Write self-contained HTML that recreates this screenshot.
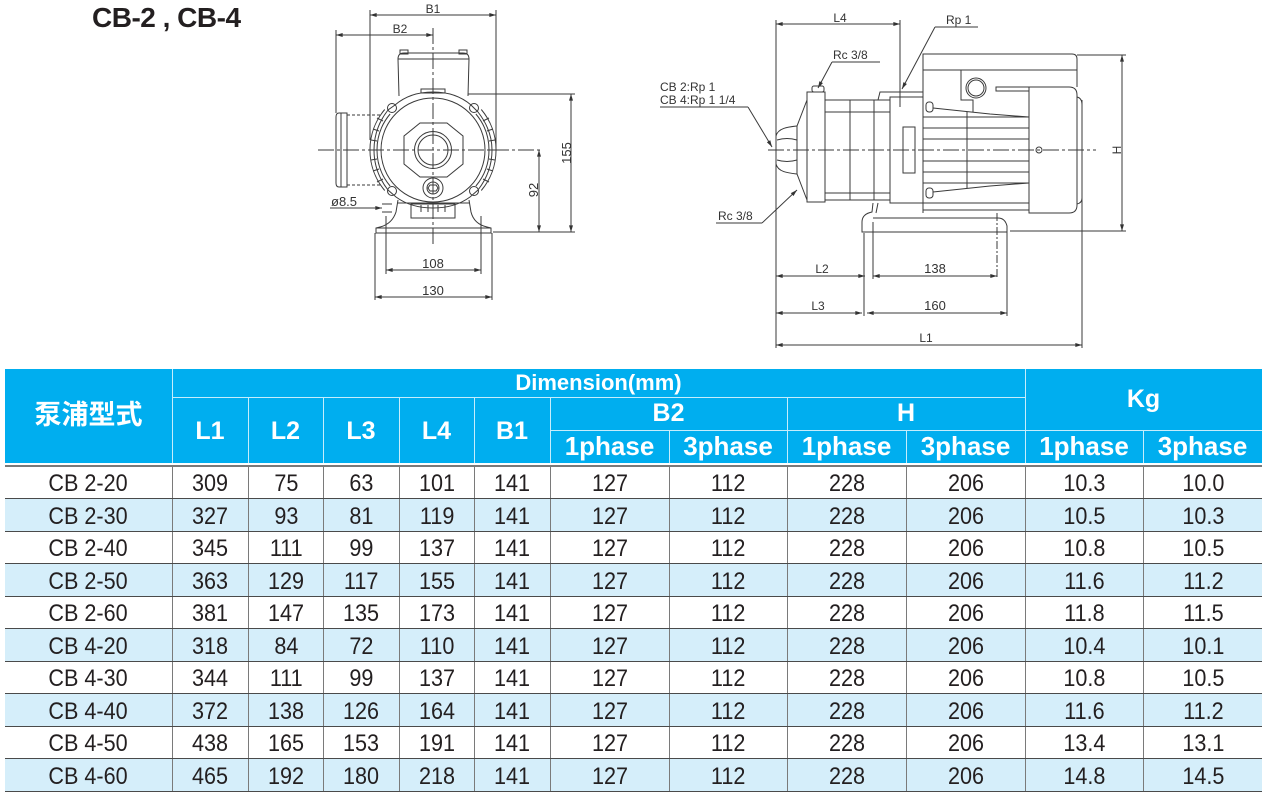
<!DOCTYPE html>
<html><head><meta charset="utf-8">
<style>
*{margin:0;padding:0;box-sizing:border-box}
body{width:1266px;height:799px;background:#fff;position:relative;overflow:hidden;font-family:"Liberation Sans","Noto Sans CJK SC",sans-serif;color:#231f20}
.title{position:absolute;left:92px;top:2px;font-size:28px;font-weight:bold;letter-spacing:-0.5px}
.hd{position:absolute;left:5px;top:369px;width:1257px;height:94px;background:#00aeef}
.ht{position:absolute;color:#fff;font-weight:bold;text-align:center;white-space:nowrap}
.vl{position:absolute;width:1px;background:#c6edfc}
.hl{position:absolute;height:1px;background:#c6edfc}
.row{position:absolute;left:5px;width:1257px;border-bottom:1px solid #4a4a4a;display:flex}
.row div{font-size:24px;text-align:center;border-left:1px solid #7a7a7a;display:flex;align-items:center;justify-content:center;padding-top:3px}
.row div:first-child{border-left:none}
.row span{display:inline-block;transform:scaleX(.9)}
.b{background:#d5eefa}
</style></head><body>
<div class="title">CB-2 , CB-4</div>

<svg width="1266" height="360" style="position:absolute;left:0;top:0" xmlns="http://www.w3.org/2000/svg">
<defs>
<marker id="a" viewBox="0 0 10 6" refX="10" refY="3" markerWidth="9" markerHeight="4" markerUnits="userSpaceOnUse" orient="auto-start-reverse"><path d="M0,0 L10,3 L0,6 z" fill="#333"/></marker>
</defs>
<g stroke="#3a3a3a" stroke-width="1" fill="none">
<line x1="370" y1="15" x2="496" y2="15" marker-start="url(#a)" marker-end="url(#a)"/>
<line x1="370" y1="10" x2="370" y2="140"/>
<line x1="496" y1="10" x2="496" y2="150"/>
<line x1="336" y1="35" x2="433" y2="35" marker-start="url(#a)" marker-end="url(#a)"/>
<line x1="336" y1="30" x2="336" y2="113"/>
<line x1="571" y1="94" x2="571" y2="232" marker-start="url(#a)" marker-end="url(#a)"/>
<line x1="539" y1="150" x2="539" y2="232" marker-start="url(#a)" marker-end="url(#a)"/>
<line x1="468" y1="94" x2="575" y2="94"/>
<line x1="493" y1="232" x2="575" y2="232"/>
<line x1="386" y1="270" x2="481" y2="270" marker-start="url(#a)" marker-end="url(#a)"/>
<line x1="375" y1="297" x2="492" y2="297" marker-start="url(#a)" marker-end="url(#a)"/>
<line x1="386" y1="216" x2="386" y2="274"/>
<line x1="481" y1="216" x2="481" y2="274"/>
<line x1="375" y1="233" x2="375" y2="300"/>
<line x1="492" y1="233" x2="492" y2="300"/>
<line x1="330" y1="208" x2="382" y2="208" marker-end="url(#a)"/>
<line x1="382" y1="204" x2="392" y2="204"/>
<line x1="382" y1="212" x2="392" y2="212"/>
<line x1="433" y1="28" x2="433" y2="245" stroke-dasharray="16 3 3 3"/>
<line x1="318" y1="150" x2="541" y2="150" stroke-dasharray="16 3 3 3"/>
<path d="M399,96 L398,59 Q398,53 404,53 L463,53 Q469,53 469,59 L468,96"/>
<line x1="398" y1="59" x2="469" y2="59"/>
<rect x="400" y="50" width="8" height="4"/><rect x="459" y="50" width="8" height="4"/>
<path d="M395,105 Q410,92 433,92 Q456,92 471,105 L478,112 Q492,130 492,150 Q492,172 478,190 L470,197 Q455,208 433,208 Q411,208 396,197 L388,190 Q374,172 374,150 Q374,128 388,110 Z"/>
<circle cx="433" cy="150" r="52"/>
<rect x="421" y="89" width="24" height="4"/>
<circle cx="392" cy="108" r="4.5"/><circle cx="474" cy="108" r="4.5"/>
<circle cx="392" cy="191" r="4.5"/><circle cx="474" cy="191" r="4.5"/>
<path d="M384.7,109.5 A63,63 0 0 0 384.7,190.5"/>
<path d="M390.1,114 A56,56 0 0 0 390.1,186"/>
<path d="M481.3,109.5 A63,63 0 0 1 481.3,190.5"/>
<path d="M475.9,114 A56,56 0 0 1 475.9,186"/>
<path d="M377,118 L383,121 M373,129 L379,131 M371,140 L377,141 M370,150 L377,150 M371,160 L377,159 M373,171 L379,169 M377,182 L383,179"/>
<path d="M489,118 L483,121 M493,129 L487,131 M495,140 L489,141 M496,150 L489,150 M495,160 L489,159 M493,171 L487,169 M489,182 L483,179"/>
<path d="M420,123 L447,123 L463,136 L463,164 L447,177 L420,177 L404,164 L404,136 Z"/>
<circle cx="433" cy="150" r="18.5"/><circle cx="433" cy="150" r="15"/>
<circle cx="433" cy="188" r="10"/><circle cx="433" cy="188" r="6"/>
<path d="M430,185 L436,185 L438,188 L436,191 L430,191 L428,188 Z"/>
<path d="M398,200 L396,212 Q392,224 380,227 L376,228 L376,233 L491,233 L491,228 L487,227 Q474,224 471,212 L469,200"/>
<line x1="376" y1="228" x2="491" y2="228"/>
<rect x="411" y="204" width="44" height="14"/>
<line x1="397" y1="203" x2="470" y2="203"/>
<path d="M421,205 L421,212 M428,205 L428,212 M438,205 L438,212 M445,205 L445,212"/>
<path d="M347,113 L339,113 Q336,113 336,117 L336,183 Q336,187 339,187 L347,187 Z"/>
<line x1="341" y1="113" x2="341" y2="187"/>
<line x1="347" y1="115" x2="382" y2="115" stroke-dasharray="3 2"/>
<line x1="347" y1="185" x2="382" y2="185" stroke-dasharray="3 2"/>

<line x1="776" y1="24" x2="900" y2="24" marker-start="url(#a)" marker-end="url(#a)"/>
<line x1="776" y1="20" x2="776" y2="348"/>
<line x1="900" y1="20" x2="900" y2="107"/>
<line x1="776" y1="276" x2="865" y2="276" marker-start="url(#a)" marker-end="url(#a)"/>
<line x1="873" y1="276" x2="997" y2="276" marker-start="url(#a)" marker-end="url(#a)"/>
<line x1="776" y1="313" x2="862" y2="313" marker-start="url(#a)" marker-end="url(#a)"/>
<line x1="867" y1="313" x2="1007" y2="313" marker-start="url(#a)" marker-end="url(#a)"/>
<line x1="776" y1="345" x2="1082" y2="345" marker-start="url(#a)" marker-end="url(#a)"/>
<line x1="864" y1="233" x2="864" y2="316"/>
<line x1="873" y1="222" x2="873" y2="279"/>
<line x1="997" y1="213" x2="997" y2="279" stroke-dasharray="8 2 2 2"/>
<line x1="1007" y1="232" x2="1007" y2="316"/>
<line x1="1082" y1="100" x2="1082" y2="348"/>
<line x1="1122" y1="55" x2="1122" y2="231" marker-start="url(#a)" marker-end="url(#a)"/>
<line x1="1077" y1="55" x2="1126" y2="55"/>
<line x1="1010" y1="231" x2="1126" y2="231"/>
<line x1="768" y1="150" x2="1096" y2="150" stroke-dasharray="16 3 3 3"/>
<path d="M978,27 L935,27"/><line x1="935" y1="27" x2="902" y2="89" marker-end="url(#a)"/>
<path d="M880,62 L832,62"/><line x1="832" y1="62" x2="818" y2="88" marker-end="url(#a)"/>
<path d="M660,107 L748,107"/><line x1="748" y1="107" x2="772" y2="147" marker-end="url(#a)"/>
<path d="M716,223 L762,223"/><line x1="762" y1="223" x2="797" y2="190" marker-end="url(#a)"/>
<path d="M807,100 L797,126 C788,127 778,128 776,136 L776,164 C778,172 788,173 797,174 L807,200"/>
<path d="M777,140 Q787,137 797,140 M777,160 Q787,163 797,160"/>
<line x1="797" y1="126" x2="797" y2="174"/>
<rect x="807" y="92" width="18" height="110"/>
<rect x="812" y="86" width="12" height="6" rx="2"/>
<rect x="825" y="100" width="65" height="100"/>
<line x1="825" y1="112" x2="890" y2="112"/><line x1="825" y1="193" x2="890" y2="193"/>
<line x1="850" y1="100" x2="850" y2="200"/><line x1="874" y1="100" x2="874" y2="200"/>
<rect x="890" y="97" width="33" height="106"/>
<path d="M878,100 L880,92 L923,92 L923,97"/>
<rect x="903" y="127" width="12" height="46"/>
<path d="M878,203 L876,213"/>
<path d="M923,213 L923,54 L1072,54 Q1077,54 1077,59 L1077,87"/>
<line x1="923" y1="70" x2="1077" y2="70"/>
<path d="M961,70 L961,100 L973,100 L973,112"/>
<circle cx="976" cy="88" r="10"/><circle cx="976" cy="88" r="8"/>
<rect x="996" y="87" width="33" height="4"/>
<path d="M1029,87 L1069,87 Q1077,87 1077,95 L1077,205 Q1077,213 1069,213 L1029,213 Z"/>
<path d="M1077,97 Q1082,98 1082,105 L1082,198 Q1082,203 1077,204"/>
<path d="M933,108 L990,114 L1029,117"/>
<path d="M933,192 L990,186 L1029,183"/>
<rect x="926" y="102" width="7" height="10" rx="3"/><rect x="926" y="188" width="7" height="10" rx="3"/>
<path d="M923,117 L1029,117 M923,128 L1029,128 M923,139 L1029,139 M923,161 L1029,161 M923,172 L1029,172 M923,183 L1029,183"/>
<line x1="967" y1="112" x2="967" y2="188"/>
<line x1="923" y1="203" x2="1029" y2="203"/>
<line x1="923" y1="210" x2="1029" y2="210"/>
<circle cx="1039" cy="150" r="3"/>
<path d="M873,203 L872,212 Q862,214 862,222 L862,232 L1007,232 L1007,226 Q1005,218 998,218 L873,218"/>
</g>
<g font-family="Liberation Sans, sans-serif" fill="#333" font-size="12">
<text x="433" y="13" text-anchor="middle">B1</text>
<text x="400" y="33" text-anchor="middle">B2</text>
<text x="331" y="206" font-size="13">ø8.5</text>
<text x="433" y="268" text-anchor="middle" font-size="13">108</text>
<text x="433" y="295" text-anchor="middle" font-size="13">130</text>
<text transform="translate(571,153) rotate(-90)" text-anchor="middle" font-size="13">155</text>
<text transform="translate(538,190) rotate(-90)" text-anchor="middle" font-size="13">92</text>
<text x="840" y="22" text-anchor="middle">L4</text>
<text x="946" y="24">Rp 1</text>
<text x="833" y="59">Rc 3/8</text>
<text x="660" y="91">CB 2:Rp 1</text>
<text x="660" y="104">CB 4:Rp 1 1/4</text>
<text x="718" y="220">Rc 3/8</text>
<text x="822" y="273" text-anchor="middle">L2</text>
<text x="935" y="273" text-anchor="middle" font-size="13">138</text>
<text x="818" y="310" text-anchor="middle">L3</text>
<text x="935" y="310" text-anchor="middle" font-size="13">160</text>
<text x="926" y="342" text-anchor="middle">L1</text>
<text transform="translate(1121,150) rotate(-90)" text-anchor="middle">H</text>
</g>
</svg>

<div class="hd"></div>
<div class="vl" style="left:172px;top:369px;height:94px"></div>
<div class="vl" style="left:1025px;top:369px;height:94px"></div>
<div class="hl" style="left:172px;top:397px;width:853px"></div>
<div class="hl" style="left:550px;top:430px;width:712px"></div>
<div class="vl" style="left:248px;top:397px;height:66px"></div>
<div class="vl" style="left:323px;top:397px;height:66px"></div>
<div class="vl" style="left:399px;top:397px;height:66px"></div>
<div class="vl" style="left:474px;top:397px;height:66px"></div>
<div class="vl" style="left:550px;top:397px;height:66px"></div>
<div class="vl" style="left:787px;top:397px;height:66px"></div>
<div class="vl" style="left:669px;top:430px;height:33px"></div>
<div class="vl" style="left:906px;top:430px;height:33px"></div>
<div class="vl" style="left:1143px;top:430px;height:33px"></div>

<div class="ht" style="left:5px;top:397px;width:167px;font-size:27px;line-height:36px">泵浦型式</div>
<div class="ht" style="left:172px;top:369px;width:853px;font-size:22px;line-height:28px">Dimension(mm)</div>
<div class="ht" style="left:1025px;top:369px;width:237px;font-size:25px;line-height:61px">Kg</div>
<div class="ht" style="left:550px;top:397px;width:237px;font-size:25px;line-height:33px">B2</div>
<div class="ht" style="left:787px;top:397px;width:238px;font-size:25px;line-height:33px">H</div>
<div class="ht" style="left:172px;top:397px;width:76px;font-size:25px;line-height:68px">L1</div>
<div class="ht" style="left:248px;top:397px;width:75px;font-size:25px;line-height:68px">L2</div>
<div class="ht" style="left:323px;top:397px;width:76px;font-size:25px;line-height:68px">L3</div>
<div class="ht" style="left:399px;top:397px;width:75px;font-size:25px;line-height:68px">L4</div>
<div class="ht" style="left:474px;top:397px;width:76px;font-size:25px;line-height:68px">B1</div>
<div class="ht" style="left:550px;top:430px;width:119px;font-size:26px;line-height:33px">1phase</div>
<div class="ht" style="left:669px;top:430px;width:118px;font-size:26px;line-height:33px">3phase</div>
<div class="ht" style="left:787px;top:430px;width:119px;font-size:26px;line-height:33px">1phase</div>
<div class="ht" style="left:906px;top:430px;width:119px;font-size:26px;line-height:33px">3phase</div>
<div class="ht" style="left:1025px;top:430px;width:118px;font-size:26px;line-height:33px">1phase</div>
<div class="ht" style="left:1143px;top:430px;width:119px;font-size:26px;line-height:33px">3phase</div>

<div style="position:absolute;left:5px;top:465px;width:1257px;height:2px;background:#7a7a7a"></div>

<div class="row" style="top:467px;height:32px"><div style="width:167px"><span>CB 2-20</span></div><div style="width:76px"><span>309</span></div><div style="width:75px"><span>75</span></div><div style="width:76px"><span>63</span></div><div style="width:75px"><span>101</span></div><div style="width:76px"><span>141</span></div><div style="width:119px"><span>127</span></div><div style="width:118px"><span>112</span></div><div style="width:119px"><span>228</span></div><div style="width:119px"><span>206</span></div><div style="width:118px"><span>10.3</span></div><div style="width:119px"><span>10.0</span></div></div>
<div class="row b" style="top:499px;height:33px"><div style="width:167px"><span>CB 2-30</span></div><div style="width:76px"><span>327</span></div><div style="width:75px"><span>93</span></div><div style="width:76px"><span>81</span></div><div style="width:75px"><span>119</span></div><div style="width:76px"><span>141</span></div><div style="width:119px"><span>127</span></div><div style="width:118px"><span>112</span></div><div style="width:119px"><span>228</span></div><div style="width:119px"><span>206</span></div><div style="width:118px"><span>10.5</span></div><div style="width:119px"><span>10.3</span></div></div>
<div class="row" style="top:532px;height:32px"><div style="width:167px"><span>CB 2-40</span></div><div style="width:76px"><span>345</span></div><div style="width:75px"><span>111</span></div><div style="width:76px"><span>99</span></div><div style="width:75px"><span>137</span></div><div style="width:76px"><span>141</span></div><div style="width:119px"><span>127</span></div><div style="width:118px"><span>112</span></div><div style="width:119px"><span>228</span></div><div style="width:119px"><span>206</span></div><div style="width:118px"><span>10.8</span></div><div style="width:119px"><span>10.5</span></div></div>
<div class="row b" style="top:564px;height:33px"><div style="width:167px"><span>CB 2-50</span></div><div style="width:76px"><span>363</span></div><div style="width:75px"><span>129</span></div><div style="width:76px"><span>117</span></div><div style="width:75px"><span>155</span></div><div style="width:76px"><span>141</span></div><div style="width:119px"><span>127</span></div><div style="width:118px"><span>112</span></div><div style="width:119px"><span>228</span></div><div style="width:119px"><span>206</span></div><div style="width:118px"><span>11.6</span></div><div style="width:119px"><span>11.2</span></div></div>
<div class="row" style="top:597px;height:32px"><div style="width:167px"><span>CB 2-60</span></div><div style="width:76px"><span>381</span></div><div style="width:75px"><span>147</span></div><div style="width:76px"><span>135</span></div><div style="width:75px"><span>173</span></div><div style="width:76px"><span>141</span></div><div style="width:119px"><span>127</span></div><div style="width:118px"><span>112</span></div><div style="width:119px"><span>228</span></div><div style="width:119px"><span>206</span></div><div style="width:118px"><span>11.8</span></div><div style="width:119px"><span>11.5</span></div></div>
<div class="row b" style="top:629px;height:33px"><div style="width:167px"><span>CB 4-20</span></div><div style="width:76px"><span>318</span></div><div style="width:75px"><span>84</span></div><div style="width:76px"><span>72</span></div><div style="width:75px"><span>110</span></div><div style="width:76px"><span>141</span></div><div style="width:119px"><span>127</span></div><div style="width:118px"><span>112</span></div><div style="width:119px"><span>228</span></div><div style="width:119px"><span>206</span></div><div style="width:118px"><span>10.4</span></div><div style="width:119px"><span>10.1</span></div></div>
<div class="row" style="top:662px;height:32px"><div style="width:167px"><span>CB 4-30</span></div><div style="width:76px"><span>344</span></div><div style="width:75px"><span>111</span></div><div style="width:76px"><span>99</span></div><div style="width:75px"><span>137</span></div><div style="width:76px"><span>141</span></div><div style="width:119px"><span>127</span></div><div style="width:118px"><span>112</span></div><div style="width:119px"><span>228</span></div><div style="width:119px"><span>206</span></div><div style="width:118px"><span>10.8</span></div><div style="width:119px"><span>10.5</span></div></div>
<div class="row b" style="top:694px;height:33px"><div style="width:167px"><span>CB 4-40</span></div><div style="width:76px"><span>372</span></div><div style="width:75px"><span>138</span></div><div style="width:76px"><span>126</span></div><div style="width:75px"><span>164</span></div><div style="width:76px"><span>141</span></div><div style="width:119px"><span>127</span></div><div style="width:118px"><span>112</span></div><div style="width:119px"><span>228</span></div><div style="width:119px"><span>206</span></div><div style="width:118px"><span>11.6</span></div><div style="width:119px"><span>11.2</span></div></div>
<div class="row" style="top:727px;height:32px"><div style="width:167px"><span>CB 4-50</span></div><div style="width:76px"><span>438</span></div><div style="width:75px"><span>165</span></div><div style="width:76px"><span>153</span></div><div style="width:75px"><span>191</span></div><div style="width:76px"><span>141</span></div><div style="width:119px"><span>127</span></div><div style="width:118px"><span>112</span></div><div style="width:119px"><span>228</span></div><div style="width:119px"><span>206</span></div><div style="width:118px"><span>13.4</span></div><div style="width:119px"><span>13.1</span></div></div>
<div class="row b" style="top:759px;height:33px"><div style="width:167px"><span>CB 4-60</span></div><div style="width:76px"><span>465</span></div><div style="width:75px"><span>192</span></div><div style="width:76px"><span>180</span></div><div style="width:75px"><span>218</span></div><div style="width:76px"><span>141</span></div><div style="width:119px"><span>127</span></div><div style="width:118px"><span>112</span></div><div style="width:119px"><span>228</span></div><div style="width:119px"><span>206</span></div><div style="width:118px"><span>14.8</span></div><div style="width:119px"><span>14.5</span></div></div>
</body></html>
